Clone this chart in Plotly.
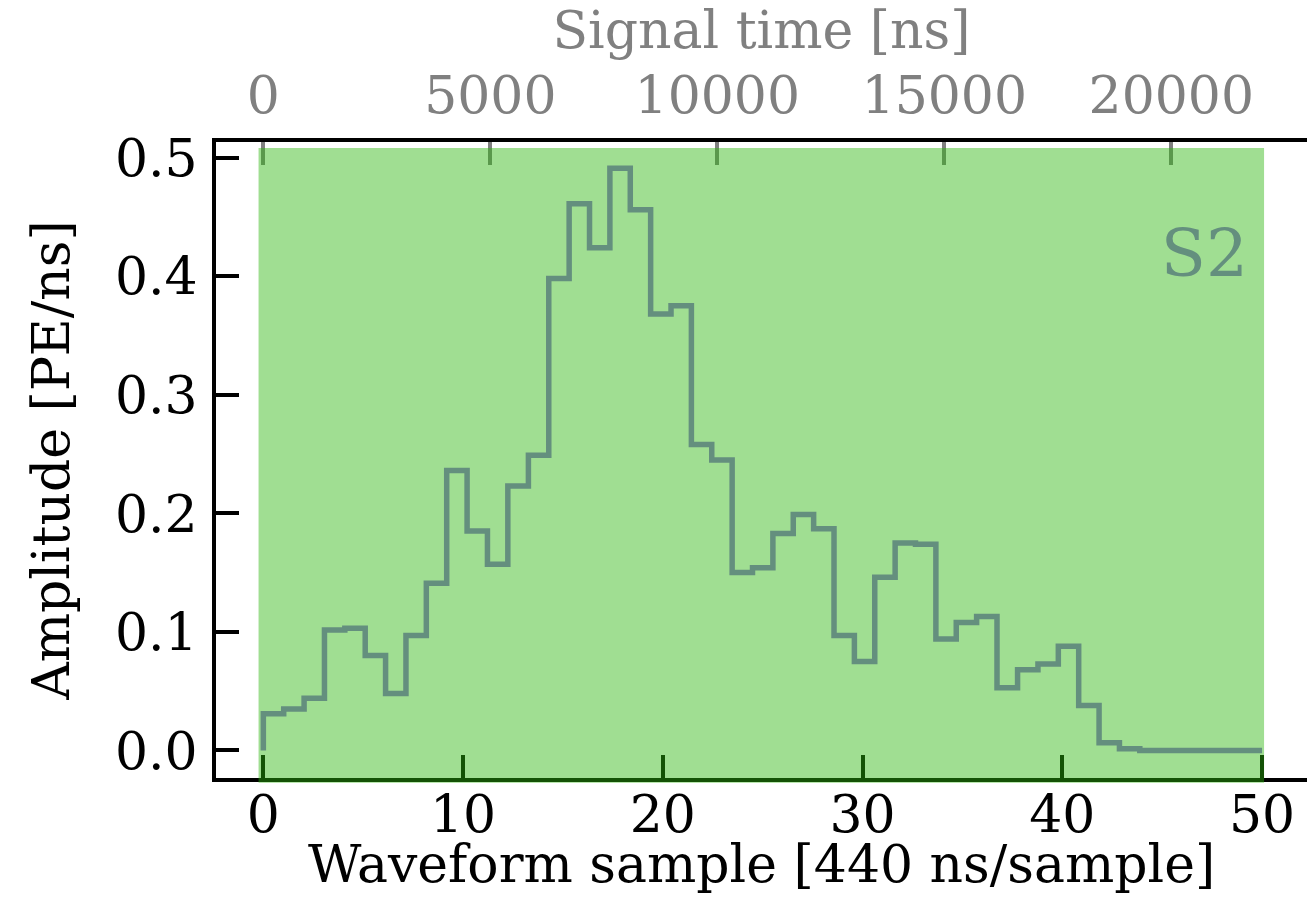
import plotly.graph_objects as go

# ---- data ----
sample_pos = [0.00, 1.02, 2.04, 3.06, 4.08, 5.10, 6.12, 7.14, 8.16, 9.18,
              10.20, 11.22, 12.24, 13.27, 14.29, 15.31, 16.33, 17.35, 18.37, 19.39,
              20.41, 21.43, 22.45, 23.47, 24.49, 25.51, 26.53, 27.55, 28.57, 29.59,
              30.61, 31.63, 32.65, 33.67, 34.69, 35.71, 36.73, 37.76, 38.78, 39.80,
              40.82, 41.84, 42.86, 43.88, 44.90, 45.92, 46.94, 47.96, 48.98, 50.00]
amplitude = [0.0,
             0.031, 0.035, 0.044, 0.1015, 0.103, 0.080, 0.048, 0.097, 0.141, 0.236,
             0.185, 0.157, 0.223, 0.249, 0.398, 0.461, 0.424, 0.491, 0.456, 0.368,
             0.375, 0.258, 0.245, 0.150, 0.154, 0.183, 0.199, 0.187, 0.097, 0.075,
             0.146, 0.175, 0.174, 0.094, 0.108, 0.113, 0.053, 0.068, 0.073, 0.088,
             0.038, 0.0065, 0.0015, 0.0, 0.0, 0.0, 0.0, 0.0, 0.0]
x_ticks = [0, 10, 20, 30, 40, 50]
y_ticks = [0.0, 0.1, 0.2, 0.3, 0.4, 0.5]
time_ticks = [0, 5000, 10000, 15000, 20000]
time_tick_labels = ["0", "5000", "10000", "15000", "20000"]
NS_PER_SAMPLE = 440
span_x = [-0.24, 50.1]
span_top = 0.508
label_text = "S2"

X_RANGE = [-2.37, 52.25]
Y_RANGE = [-0.0232, 0.5131]

FONT = "DejaVu Serif"
FS = 52

fig = go.Figure()
fig.add_trace(go.Scatter(
    x=sample_pos, y=amplitude, mode="lines",
    line=dict(shape="vh", color="mediumpurple", width=5.5),
    showlegend=False, hoverinfo="skip"))
# carrier for the top time axis
fig.add_trace(go.Scatter(
    x=[p * NS_PER_SAMPLE for p in sample_pos], y=amplitude, mode="lines",
    line=dict(width=0), opacity=0, xaxis="x2", yaxis="y",
    showlegend=False, hoverinfo="skip"))
# S2 label
fig.add_trace(go.Scatter(
    x=[49.3], y=[0.414], mode="text", text=[label_text],
    textposition="middle left",
    textfont=dict(family=FONT, size=66, color="mediumpurple"),
    showlegend=False, hoverinfo="skip"))

span_y1 = (span_top - Y_RANGE[0]) / (Y_RANGE[1] - Y_RANGE[0])
fig.add_shape(type="rect", xref="x", yref="paper",
              x0=span_x[0], x1=span_x[1], y0=-0.0075, y1=span_y1,
              fillcolor="rgba(44,182,13,0.45)", line=dict(width=0), layer="above")

axis_common = dict(showgrid=False, zeroline=False, showline=True, linecolor="black",
                   linewidth=4, ticks="inside", ticklen=23, tickwidth=3.5)

fig.update_layout(
    width=1307, height=919,
    margin=dict(l=216, r=0, t=142, b=141),
    paper_bgcolor="white", plot_bgcolor="white",
    font=dict(family=FONT, size=FS, color="black"),
    xaxis=dict(range=X_RANGE, tickvals=x_ticks, tickcolor="black",
               tickfont=dict(family=FONT, size=FS, color="black"),
               ticklabelstandoff=-12,
               **axis_common),
    xaxis2=dict(range=[X_RANGE[0] * NS_PER_SAMPLE, X_RANGE[1] * NS_PER_SAMPLE],
                overlaying="x", side="top", anchor="y",
                tickvals=time_ticks, ticktext=time_tick_labels, tickcolor="#808080",
                tickfont=dict(family=FONT, size=FS, color="#808080"),
                ticklabelstandoff=4,
                title=dict(text="Signal time [ns]",
                           font=dict(family=FONT, size=FS, color="#808080"), standoff=2),
                **axis_common),
    yaxis=dict(range=Y_RANGE, tickvals=y_ticks, tickformat=".1f", tickcolor="black",
               tickfont=dict(family=FONT, size=FS, color="black"),
               ticklabelstandoff=4,
               title=dict(text="Amplitude [PE/ns]",
                          font=dict(family=FONT, size=FS, color="black"), standoff=30),
               **axis_common),
    annotations=[dict(text="Waveform sample [440 ns/sample]", xref="paper", yref="paper",
                      x=0.5, y=0, xanchor="center", yanchor="middle", yshift=-86,
                      showarrow=False, font=dict(family=FONT, size=FS, color="black"))],
)

fig.write_html("out.html")
